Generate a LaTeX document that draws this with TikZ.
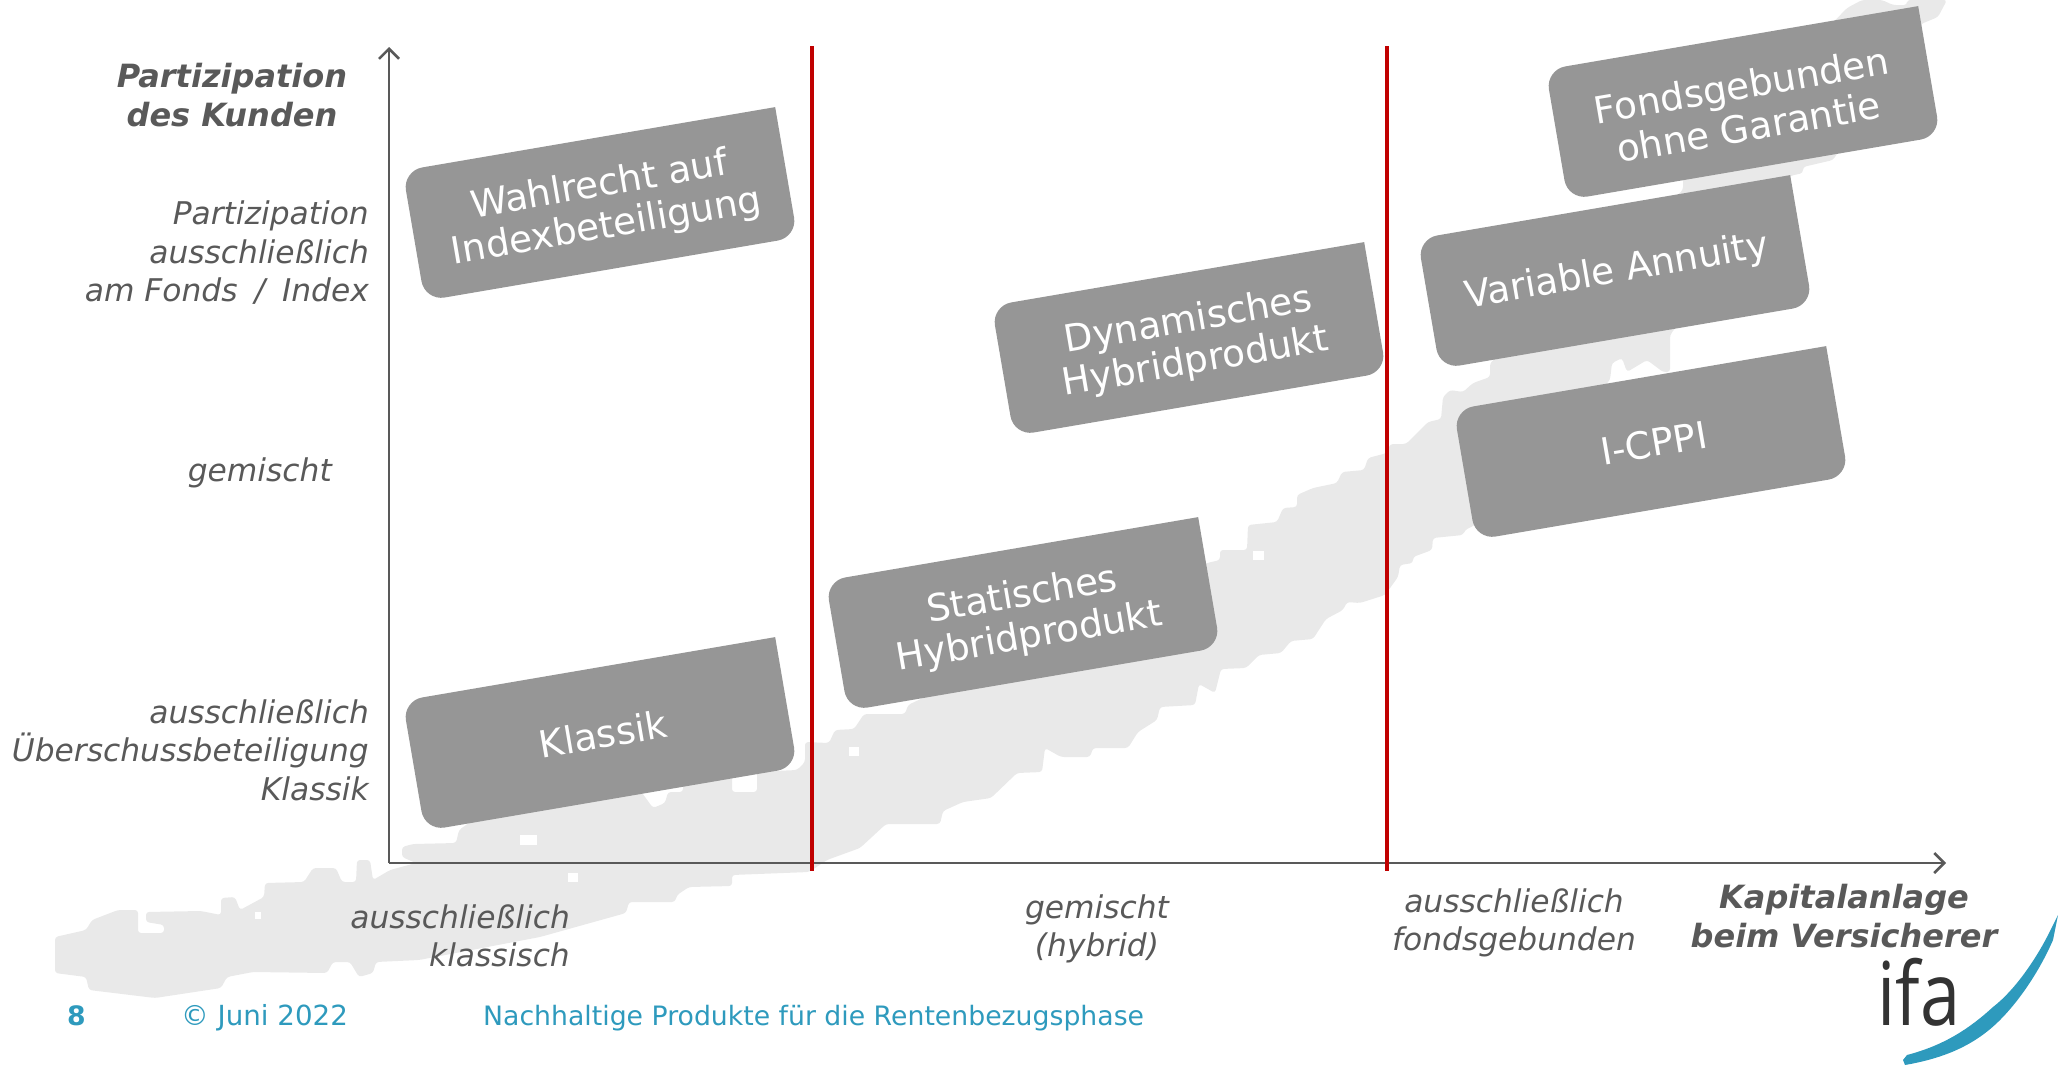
\documentclass[tikz,border=0pt]{standalone}
\usepackage{fontspec}
\setmainfont{DejaVu Sans}
\newfontfamily\logofont{Open Sans}
\usetikzlibrary{arrows.meta}

\definecolor{axisgray}{HTML}{595959}
\definecolor{boxgray}{HTML}{969696}
\definecolor{shapegray}{HTML}{E9E9E9}
\definecolor{ifared}{HTML}{C00000}
\definecolor{ifablue}{HTML}{2E9ABD}

\tikzset{
	axisline/.style={color=axisgray,line width=2.5pt},
	redline/.style={color=ifared,line width=4pt},
	boxlabel/.style={text=white,align=center,font=\fontsize{37.4}{42}\selectfont,rotate=9.7,inner sep=0pt},
	ticklabel/.style={text=axisgray,font=\fontsize{31.3}{38.5}\selectfont\itshape,inner sep=0pt},
	axislabel/.style={text=axisgray,font=\fontsize{32}{38.5}\selectfont\itshape\bfseries,inner sep=0pt},
	footlabel/.style={text=ifablue,font=\fontsize{26.7}{30}\selectfont,inner sep=0pt,anchor=base west},
	prodbox/.pic={
		\fill[color=boxgray,rotate=9.7] (189,-66) [rounded corners=20pt] -- (189,66) -- (-189,66) -- (-189,-66) [sharp corners] -- cycle;
	},
}

\begin{document}
\begin{tikzpicture}[x=1pt,y=-1pt]
	\useasboundingbox (0,0) rectangle (2062,1066);
%watermark
	\fill[color=shapegray,rounded corners=3pt] (55,937) -- (86,930) -- (92,920) -- (118,910) -- (138,910) -- (138,933) -- (164,933) -- (164,925) -- (146,922) -- (146,912) -- (201,911) -- (221,915) -- (221,898) -- (235,897) -- (240,910) -- (264,897) -- (265,883) -- (304,882) -- (313,868) -- (336,868) -- (342,882) -- (356,882) -- (357,860) -- (370,860) -- (373,880) -- (390,870) -- (416,863) -- (402,857) -- (402,847) -- (413,844) -- (456,843) -- (459,830) -- (480,815) -- (640,790) -- (653,808) -- (665,803) -- (668,792) -- (683,792) -- (683,775) -- (732,770) -- (732,792) -- (757,792) -- (757,768) -- (775,771) -- (797,770) -- (805,762) -- (805,742) -- (829,743) -- (835,730) -- (854,729) -- (864,714) -- (905,714) -- (908,705) -- (1207,563) -- (1220,560) -- (1220,550) -- (1247,550) -- (1248,525) -- (1277,522) -- (1283,508) -- (1297,507) -- (1297,495) -- (1313,488) -- (1337,483) -- (1342,472) -- (1364,470) -- (1368,458) -- (1387,453) -- (1390,444) -- (1406,444) -- (1428,422) -- (1441,419) -- (1443,397) -- (1450,390) -- (1463,392) -- (1473,383) -- (1490,377) -- (1490,363) -- (1683,190) -- (1683,178) -- (1847,8) -- (1862,0) -- (1882,0) -- (1893,5) -- (1907,5) -- (1907,0) -- (1947,0) -- (1938,17) -- (1921,24) -- (1833,160) -- (1803,167) -- (1803,173) -- (1790,176) -- (1670,335) -- (1670,372) -- (1663,372) -- (1647,360) -- (1627,372) -- (1622,358) -- (1612,363) -- (1610,380) -- (1475,525) -- (1465,530) -- (1463,535) -- (1433,538) -- (1432,550) -- (1413,557) -- (1413,563) -- (1400,565) -- (1398,577) -- (1385,595) -- (1360,603) -- (1347,602) -- (1343,610) -- (1326,619) -- (1313,639) -- (1291,641) -- (1281,653) -- (1259,655) -- (1246,668) -- (1221,669) -- (1215,693) -- (1199,684) -- (1195,705) -- (1160,707) -- (1157,720) -- (1138,732) -- (1128,748) -- (1093,748) -- (1090,757) -- (1061,757) -- (1045,748) -- (1042,772) -- (1017,773) -- (991,798) -- (963,802) -- (943,811) -- (940,824) -- (886,824) -- (860,848) -- (827,860) -- (809,872) -- (732,875) -- (732,886) -- (689,887) -- (677,895) -- (675,902) -- (629,902) -- (626,913) -- (540,937) -- (419,960) -- (376,962) -- (373,973) -- (359,977) -- (350,962) -- (333,962) -- (327,973) -- (253,972) -- (227,977) -- (221,988) -- (155,998) -- (89,990) -- (86,977) -- (55,973) -- cycle;
	\fill[color=white] (255,912) rectangle (261,919);
	\fill[color=white] (520,835) rectangle (537,845);
	\fill[color=white] (568,873) rectangle (578,882);
	\fill[color=white] (849,747) rectangle (859,756);
	\fill[color=white] (1253,551) rectangle (1264,560);
%axes
	\coordinate (origin) at (389,863);
	\coordinate (ytip) at (389,47);
	\coordinate (xtip) at (1946,863);
	\draw[axisline,-{Straight Barb[length=10pt,width=20pt]}] (origin) -- (ytip);
	\draw[axisline,-{Straight Barb[length=10pt,width=20pt]}] (origin) -- (xtip);
%products
	\pic at (600,204) {prodbox};
	\pic at (600,734) {prodbox};
	\pic at (1023,614) {prodbox};
	\pic at (1189,339) {prodbox};
	\pic at (1615,272) {prodbox};
	\pic at (1651,443) {prodbox};
	\pic at (1743,103) {prodbox};
	\node[boxlabel] (wahlrecht) at (603,207) {Wahlrecht auf\\Indexbeteiligung};
	\node[boxlabel] (klassik) at (603,734) {Klassik};
	\node[boxlabel] (statisch) at (1026,617) {Statisches\\Hybridprodukt};
	\node[boxlabel] (dynamisch) at (1192,342) {Dynamisches\\Hybridprodukt};
	\node[boxlabel] (variable) at (1617,272) {Variable Annuity};
	\node[boxlabel] (icppi) at (1654,443) {I-CPPI};
	\node[boxlabel] (fonds) at (1745,106) {Fondsgebunden\\ohne Garantie};
%red lines
	\coordinate (redatop) at (812,46);
	\coordinate (redabot) at (812,871);
	\coordinate (redbtop) at (1387,46);
	\coordinate (redbbot) at (1387,871);
	\draw[redline] (redatop) -- (redabot);
	\draw[redline] (redbtop) -- (redbbot);
%labels
	\node[axislabel,align=center] (ylabel) at (232,95) {Partizipation\\des Kunden};
	\node[ticklabel,align=right,anchor=east] (yhigh) at (369,253) {Partizipation\\ausschließlich\\am Fonds\hspace{7pt} / \hspace{7pt}Index};
	\node[ticklabel,anchor=east] (ymid) at (332,473) {gemischt};
	\node[ticklabel,align=right,anchor=east] (ylow) at (369,750) {ausschließlich\\Überschussbeteiligung\\Klassik};
	\node[ticklabel,align=right,anchor=east] (xlow) at (570,936) {ausschließlich\\klassisch};
	\node[ticklabel,align=center] (xmid) at (1097,929) {gemischt\\(hybrid)};
	\node[ticklabel,align=center] (xhigh) at (1514,923) {ausschließlich\\fondsgebunden};
	\node[axislabel,align=center] (xlabel) at (1844,916) {Kapitalanlage\hspace{10pt}\\beim Versicherer};
%footer
	\node[footlabel,font=\fontsize{26.7}{30}\selectfont\bfseries] (pageno) at (67,1025) {8};
	\node[footlabel,font=\fontsize{27.7}{30}\selectfont] (datum) at (181,1025) {© Juni 2022};
	\node[footlabel] (titel) at (483,1025) {Nachhaltige Produkte für die Rentenbezugsphase};
%logo
	\node[text=black!80,font=\fontsize{88}{88}\selectfont\logofont,inner sep=0pt,xscale=0.82,anchor=base] (ifa) at (1919,1025) {ifa};
	\fill[color=ifablue] (2058,915) -- (2047,937) .. controls (2035,960) and (2015,990) .. (1993,1007) .. controls (1970,1028) and (1945,1045) .. (1907,1055) -- (1903,1060) -- (1905,1065) .. controls (1945,1058) and (1975,1045) .. (2000,1020) .. controls (2020,1000) and (2040,970) .. (2053,940) -- cycle;
\end{tikzpicture}
\end{document}
